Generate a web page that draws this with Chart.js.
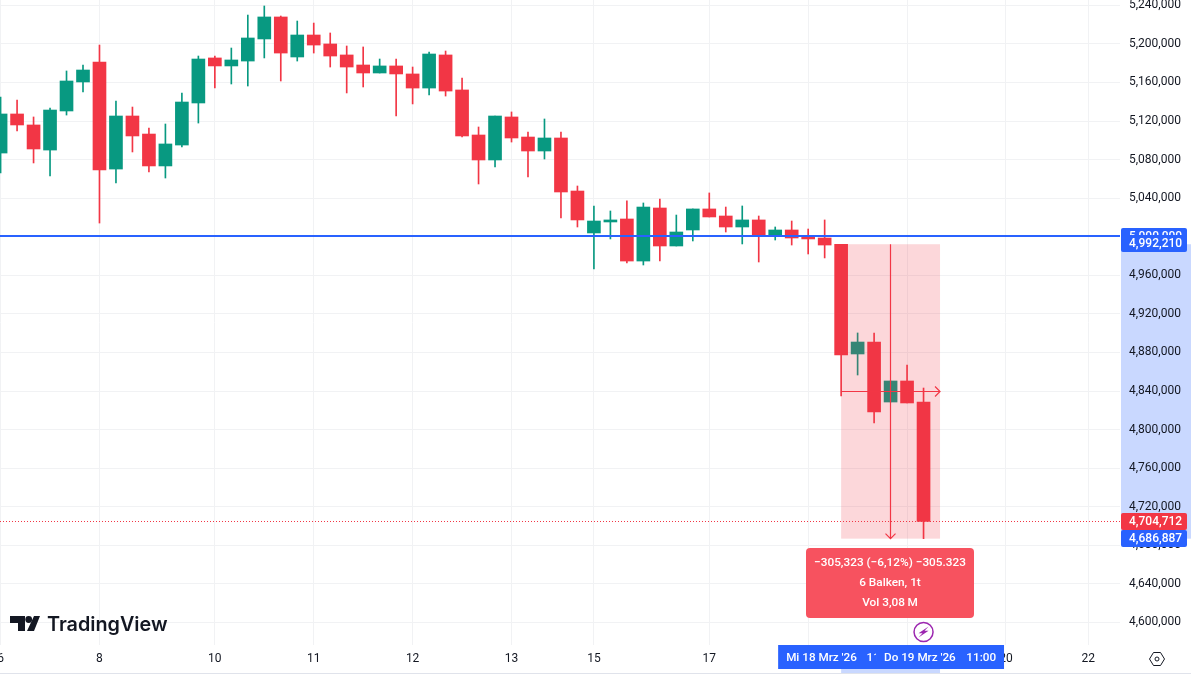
<!DOCTYPE html>
<html>
<head>
<meta charset="utf-8">
<title>Candles</title>
<script src="https://cdn.jsdelivr.net/npm/chart.js@4"></script>
<style>
    html, body { margin: 0; padding: 0; background: #fff; overflow: hidden; }
    canvas { display: block; }
</style>
</head>
<body>
<canvas id="myChart" width="1191" height="678"></canvas>
<script>
const opens = [5086800, 5127300, 5115900, 5089900, 5130400, 5160500, 5181200, 5070200, 5125200, 5106500,
    5073400, 5095100, 5138700, 5185400, 5177100, 5182200, 5205100, 5227900, 5186400, 5209200,
    5199900, 5188500, 5178100, 5169800, 5177100, 5168800, 5154200, 5188500, 5152200, 5105500,
    5079600, 5124200, 5103400, 5088900, 5102400, 5047400, 5003900, 5015300, 5018400, 4974800,
    5029800, 4990400, 5007000, 5028800, 5021500, 5010100, 5017400, 5001800, 5007000, 4999700,
    4998700, 4992210, 4878400, 4890800, 4828600, 4850400, 4828600];
const highs = [5144900, 5141800, 5124200, 5133500, 5171900, 5178100, 5198800, 5140800, 5134500, 5112800,
    5116900, 5149100, 5187400, 5187400, 5195700, 5229900, 5239300, 5228900, 5223700, 5221600,
    5211300, 5197800, 5196800, 5184300, 5184300, 5176000, 5191600, 5192600, 5164600, 5113800,
    5125200, 5129400, 5108600, 5122100, 5108600, 5052600, 5031900, 5026700, 5037100, 5035000,
    5039100, 5022500, 5028800, 5045400, 5030800, 5031900, 5021500, 5010100, 5016300, 5008000,
    5017400, 4992210, 4900200, 4900200, 4850400, 4867000, 4843100];
const lows = [5066100, 5109700, 5076500, 5063000, 5126200, 5150100, 5014200, 5055700, 5087900, 5067100,
    5060900, 5093100, 5117900, 5154200, 5158400, 5156300, 5185400, 5161500, 5182200, 5190500,
    5176000, 5149100, 5155300, 5169800, 5125200, 5137700, 5147000, 5145900, 5103400, 5054700,
    5072300, 5098200, 5062000, 5080600, 5019400, 5010100, 4966500, 4997700, 4972800, 4970700,
    4974800, 4990400, 4995600, 5020500, 5004900, 4992500, 4973800, 4996600, 4991400, 4982100,
    4978000, 4834800, 4856600, 4806800, 4828600, 4827600, 4686887];
const closes = [5127300, 5115900, 5091000, 5131400, 5161500, 5172900, 5069200, 5125200, 5104500, 5073400,
    5096200, 5139700, 5184300, 5177100, 5183300, 5206100, 5227900, 5190500, 5209200, 5198800,
    5187400, 5176000, 5169800, 5177100, 5168800, 5154200, 5189500, 5151100, 5104500, 5079600,
    5125200, 5102400, 5088900, 5102400, 5046400, 5017400, 5016300, 5017400, 4974800, 5030800,
    4990400, 5004900, 5028800, 5020500, 5010100, 5017400, 5001800, 5007000, 4998700, 4997700,
    4991400, 4877400, 4890800, 4818300, 4850400, 4827600, 4704712];

const priceTicks = [5240000, 5200000, 5160000, 5120000, 5080000, 5040000, 5000000, 4960000, 4920000,
    4880000, 4840000, 4800000, 4760000, 4720000, 4680000, 4640000, 4600000];
const dayTickBars = [0, 6, 13, 19, 25, 31, 36, 43, 49, 55, 61, 66];
const dayTickLabels = ['6', '8', '10', '11', '12', '13', '15', '17', '18', '19', '20', '22'];

// measure tool and price lines
const levelPrice = 5000000;
const lastPrice = 4704712;
const measureFromBar = 51;
const measureToBar = 57;
const measureMidBar = 54;
const measureTop = 4992210;
const measureBottom = 4686887;
const measureMid = 4839548;
const signalBar = 56;
const measureLines = ['\u2212305,323 (\u22126,12%) \u2212305.323', '6 Balken, 1t', 'Vol 3,08\u2009M'];

const GREEN = '#089981';
const RED = '#F23645';
const BLUE = '#2962FF';
const TEXT = '#131722';
const GRID = '#f1f2f4';
const FONT = 'Roboto, "Open Sans", sans-serif';

const bars = opens.map((o, i) => i);
const candleColors = bars.map(i => closes[i] >= opens[i] ? GREEN : RED);

function roundRect(c, x, y, w, h, r) {
    c.beginPath();
    c.roundRect(x, y, w, h, r);
    c.fill();
}

function priceTag(c, text, top, height, color) {
    c.fillStyle = color;
    roundRect(c, 1121, top, 66, height, 2);
    c.fillStyle = '#fff';
    c.font = '500 12px ' + FONT;
    c.textAlign = 'left';
    c.textBaseline = 'middle';
    c.fillText(text, 1129, top + height / 2);
}

function timeTag(c, center, w, date, time) {
    c.fillStyle = BLUE;
    c.fillRect(center - w / 2, 645, w, 24);
    c.fillStyle = '#fff';
    c.font = '500 11.7px ' + FONT;
    c.textBaseline = 'middle';
    c.textAlign = 'left';
    c.fillText(date, center - w / 2 + 8, 658);
    c.textAlign = 'right';
    c.fillText(time, center + w / 2 - 8, 658);
}

function noPadding(scale) {
    scale.paddingLeft = 0;
    scale.paddingRight = 0;
    scale.paddingTop = 0;
    scale.paddingBottom = 0;
}

const drawingsPlugin = {
    id: 'drawings',
    beforeDraw(chart) {
        const c = chart.ctx;
        const x = chart.scales.x;
        const y = chart.scales.y;
        const left = x.getPixelForValue(measureFromBar);
        const right = x.getPixelForValue(measureToBar);
        const top = y.getPixelForValue(measureTop);
        const bottom = y.getPixelForValue(measureBottom);
        c.save();
        c.fillStyle = 'rgba(41, 98, 255, 0.25)';
        c.fillRect(1121, top, 70, bottom - top);
        c.fillRect(left, 645, right - left, 28);
        c.fillStyle = '#e0e3eb';
        c.fillRect(0, 673, 1191, 1);
        c.restore();
    },
    afterDatasetsDraw(chart) {
        const c = chart.ctx;
        const x = chart.scales.x;
        const y = chart.scales.y;
        const left = x.getPixelForValue(measureFromBar);
        const right = x.getPixelForValue(measureToBar);
        const top = y.getPixelForValue(measureTop);
        const bottom = y.getPixelForValue(measureBottom);
        const midX = Math.floor(x.getPixelForValue(measureMidBar)) + 0.5;
        const midY = Math.floor(y.getPixelForValue(measureMid)) + 0.5;
        const lastY = Math.floor(y.getPixelForValue(lastPrice)) + 0.5;
        const area = chart.chartArea;

        c.save();
        // level line and last price line
        c.strokeStyle = RED;
        c.lineWidth = 1;
        c.setLineDash([1, 2]);
        c.beginPath();
        c.moveTo(0, lastY);
        c.lineTo(area.right, lastY);
        c.stroke();
        c.setLineDash([]);
        c.strokeStyle = BLUE;
        c.lineWidth = 2;
        c.beginPath();
        c.moveTo(0, Math.floor(y.getPixelForValue(levelPrice)));
        c.lineTo(area.right, Math.floor(y.getPixelForValue(levelPrice)));
        c.stroke();

        // measure box
        c.fillStyle = 'rgba(242, 54, 69, 0.2)';
        c.fillRect(left, top, right - left, bottom - top);
        c.strokeStyle = RED;
        c.lineWidth = 1.2;
        c.beginPath();
        c.moveTo(midX, top);
        c.lineTo(midX, bottom);
        c.moveTo(midX - 5, bottom - 5);
        c.lineTo(midX, bottom);
        c.lineTo(midX + 5, bottom - 5);
        c.moveTo(left, midY);
        c.lineTo(right, midY);
        c.moveTo(right - 5, midY - 5);
        c.lineTo(right, midY);
        c.lineTo(right - 5, midY + 5);
        c.stroke();

        // measure label
        c.fillStyle = '#F7525F';
        roundRect(c, 806, 548, 168, 70, 4);
        c.fillStyle = '#fff';
        c.font = '500 11.8px ' + FONT;
        c.textAlign = 'center';
        c.textBaseline = 'middle';
        measureLines.forEach((line, i) => c.fillText(line, 890, 563 + i * 20));

        // signal icon
        const sx = x.getPixelForValue(signalBar);
        c.strokeStyle = '#9C27B0';
        c.lineWidth = 1.5;
        c.beginPath();
        c.arc(sx, 632, 9.5, 0, Math.PI * 2);
        c.stroke();
        c.fillStyle = '#9C27B0';
        c.beginPath();
        c.moveTo(sx + 5, 626.5);
        c.lineTo(sx - 5, 633.2);
        c.lineTo(sx - 1, 633.2);
        c.lineTo(sx - 5, 637.5);
        c.lineTo(sx + 5, 630.8);
        c.lineTo(sx + 1, 630.8);
        c.closePath();
        c.fill();

        // logo
        c.fillStyle = TEXT;
        c.beginPath();
        c.moveTo(10, 616);
        c.lineTo(25, 616);
        c.lineTo(25, 631);
        c.lineTo(18, 631);
        c.lineTo(18, 623);
        c.lineTo(10, 623);
        c.closePath();
        c.moveTo(34, 616);
        c.lineTo(40, 616);
        c.lineTo(34, 631);
        c.lineTo(27, 631);
        c.closePath();
        c.fill();
        c.beginPath();
        c.arc(28.7, 619.5, 3.4, 0, Math.PI * 2);
        c.fill();
        c.font = '600 19.8px Inter, ' + FONT;
        c.textAlign = 'left';
        c.textBaseline = 'alphabetic';
        c.fillText('TradingView', 47, 631);
        c.restore();
    },
    afterDraw(chart) {
        const c = chart.ctx;
        const x = chart.scales.x;
        c.save();
        priceTag(c, '5,000,000', 228, 18, BLUE);
        priceTag(c, '4,992,210', 235, 17, BLUE);
        priceTag(c, '4,704,712', 513, 17, RED);
        priceTag(c, '4,686,887', 530, 17, BLUE);
        timeTag(c, x.getPixelForValue(measureFromBar), 126, "Mi 18 Mrz '26", '11:00');
        timeTag(c, x.getPixelForValue(measureToBar), 128, "Do 19 Mrz '26", '11:00');

        // settings icon
        c.strokeStyle = TEXT;
        c.lineWidth = 1;
        c.beginPath();
        c.moveTo(1149.5, 659);
        c.lineTo(1153.5, 652.5);
        c.lineTo(1160.5, 652.5);
        c.lineTo(1164.5, 659);
        c.lineTo(1160.5, 665.5);
        c.lineTo(1153.5, 665.5);
        c.closePath();
        c.moveTo(1159, 659);
        c.arc(1157, 659, 2, 0, Math.PI * 2);
        c.stroke();
        c.restore();
    }
};

const ctx = document.getElementById('myChart').getContext('2d');

const data = {
    datasets: [{
        label: 'wicks',
        data: bars.map(i => ({ x: i, y: [lows[i], highs[i]] })),
        backgroundColor: candleColors,
        barThickness: 1,
        order: 2,
    }, {
        label: 'bodies',
        data: bars.map(i => ({ x: i, y: [opens[i], closes[i]] })),
        backgroundColor: candleColors,
        barThickness: 13,
        order: 1,
    }]
};

const config = {
    type: 'bar',
    data: data,
    plugins: [drawingsPlugin],
    options: {
        responsive: false,
        animation: false,
        grouped: false,
        layout: { padding: 0 },
        plugins: {
            legend: { display: false },
            title: { display: false },
            tooltip: { enabled: false },
        },
        scales: {
            x: {
                type: 'linear',
                offset: false,
                min: -0.036,
                max: 67.92,
                afterBuildTicks: (scale) => {
                    scale.ticks = dayTickBars.map(v => ({ value: v }));
                },
                afterFit: (scale) => {
                    scale.height = 33;
                    noPadding(scale);
                },
                border: { display: false },
                grid: { color: GRID, drawTicks: false, offset: false },
                ticks: {
                    autoSkip: false,
                    maxRotation: 0,
                    padding: 7,
                    color: TEXT,
                    font: { family: FONT, size: 12 },
                    callback: (v) => dayTickLabels[dayTickBars.indexOf(v)],
                },
            },
            y: {
                position: 'right',
                min: 4576600,
                max: 5245500,
                afterBuildTicks: (scale) => {
                    scale.ticks = priceTicks.map(v => ({ value: v }));
                },
                afterFit: (scale) => {
                    scale.width = 71;
                    noPadding(scale);
                },
                border: { display: false },
                grid: { color: GRID, drawTicks: false },
                ticks: {
                    autoSkip: false,
                    padding: 9,
                    color: TEXT,
                    font: { family: FONT, size: 12 },
                    callback: (v) => v.toLocaleString('en-US'),
                },
            },
        },
    },
};

const myChart = new Chart(ctx, config);
</script>
</body>
</html>
